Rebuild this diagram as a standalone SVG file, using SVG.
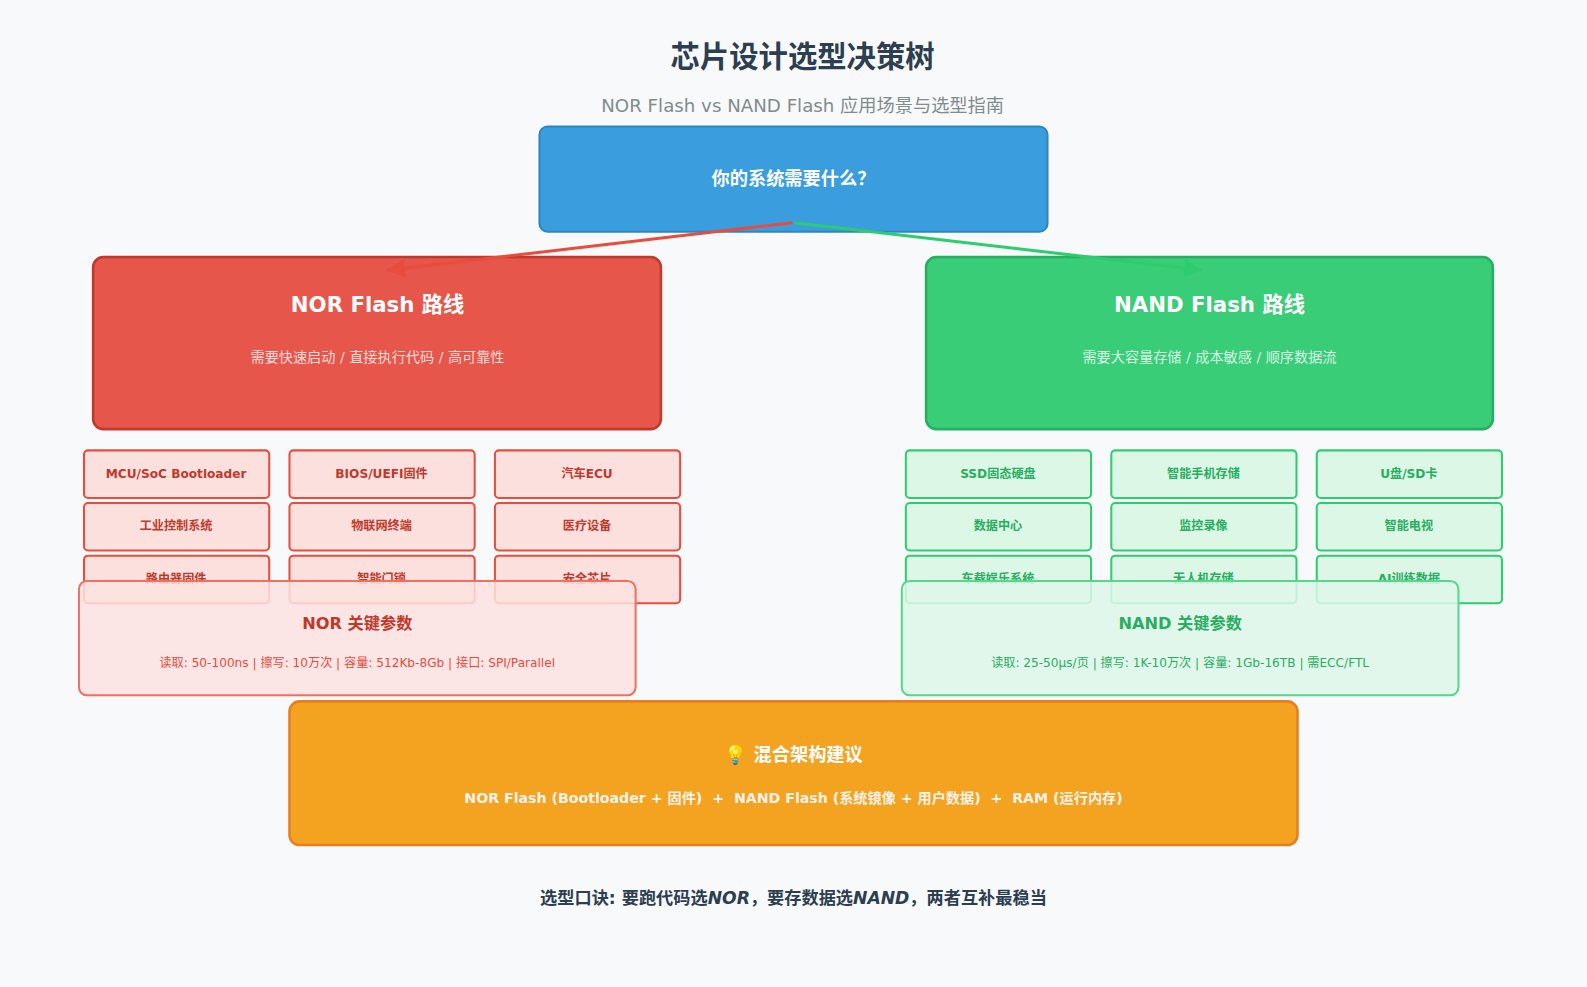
<svg xmlns="http://www.w3.org/2000/svg" width="1587" height="987" viewBox="0 0 1587 987">
<style>
text{font-family:"DejaVu Sans","Noto Sans CJK SC",sans-serif;text-anchor:middle}
.b{font-weight:bold}
.na{fill:#fce0de;stroke:#e74c3c;stroke-width:2}
.ga{fill:#dcf7e6;stroke:#2ecc71;stroke-width:2}
.nt{fill:#c0392b;font-size:12px;font-weight:bold}
.gt{fill:#27ae60;font-size:12px;font-weight:bold}
</style>
<defs>
<marker id="mr" markerWidth="8" markerHeight="8" refX="6" refY="3" orient="auto"><path d="M0,0L6,3L0,6Z" fill="#e74c3c"/></marker>
<marker id="mg" markerWidth="8" markerHeight="8" refX="6" refY="3" orient="auto"><path d="M0,0L6,3L0,6Z" fill="#2ecc71"/></marker>
</defs>
<rect width="1587" height="987" fill="#f8f9fa"/>
<g transform="scale(1.0121)">
<text x="793" y="66" class="b" font-size="29" fill="#2c3e50">芯片设计选型决策树</text>
<text x="793" y="111" font-size="18" fill="#7f8c8d">NOR Flash vs NAND Flash 应用场景与选型指南</text>
<g id="root"><rect x="533" y="125" width="502" height="104" rx="8" fill="#3a9ddd" stroke="#2e86c1" stroke-width="2"/>
<text x="784" y="183" class="b" font-size="18" fill="#fff">你的系统需要什么？</text></g>
<g id="nor"><rect x="92" y="254" width="561" height="170" rx="10" fill="#e7564a" stroke="#c0392b" stroke-width="2.5"/>
<text x="373" y="308" class="b" font-size="21" fill="#fff">NOR Flash 路线</text>
<text x="373" y="358" font-size="14" fill="#fadbd8">需要快速启动 / 直接执行代码 / 高可靠性</text></g>
<g id="nand"><rect x="915" y="254" width="560" height="170" rx="10" fill="#3acd77" stroke="#27ae60" stroke-width="2.5"/>
<text x="1195" y="308" class="b" font-size="21" fill="#fff">NAND Flash 路线</text>
<text x="1195" y="358" font-size="14" fill="#d5f5e3">需要大容量存储 / 成本敏感 / 顺序数据流</text></g>
<g id="connectors" stroke-width="3" fill="none">
<line x1="783" y1="220" x2="382" y2="267" stroke="#e74c3c" marker-end="url(#mr)"/>
<line x1="785" y1="220" x2="1188" y2="267" stroke="#2ecc71" marker-end="url(#mg)"/>
</g>
<g id="nor-apps">
<rect class="na" x="83" y="445" width="183" height="47" rx="4"/><text class="nt" x="174" y="472">MCU/SoC Bootloader</text>
<rect class="na" x="286" y="445" width="183" height="47" rx="4"/><text class="nt" x="377" y="472">BIOS/UEFI固件</text>
<rect class="na" x="489" y="445" width="183" height="47" rx="4"/><text class="nt" x="580" y="472">汽车ECU</text>
<rect class="na" x="83" y="497" width="183" height="47" rx="4"/><text class="nt" x="174" y="524">工业控制系统</text>
<rect class="na" x="286" y="497" width="183" height="47" rx="4"/><text class="nt" x="377" y="524">物联网终端</text>
<rect class="na" x="489" y="497" width="183" height="47" rx="4"/><text class="nt" x="580" y="524">医疗设备</text>
<rect class="na" x="83" y="549" width="183" height="47" rx="4"/><text class="nt" x="174" y="576">路由器固件</text>
<rect class="na" x="286" y="549" width="183" height="47" rx="4"/><text class="nt" x="377" y="576">智能门锁</text>
<rect class="na" x="489" y="549" width="183" height="47" rx="4"/><text class="nt" x="580" y="576">安全芯片</text>
</g>
<g id="nand-apps">
<rect class="ga" x="895" y="445" width="183" height="47" rx="4"/><text class="gt" x="986" y="472">SSD固态硬盘</text>
<rect class="ga" x="1098" y="445" width="183" height="47" rx="4"/><text class="gt" x="1189" y="472">智能手机存储</text>
<rect class="ga" x="1301" y="445" width="183" height="47" rx="4"/><text class="gt" x="1392" y="472">U盘/SD卡</text>
<rect class="ga" x="895" y="497" width="183" height="47" rx="4"/><text class="gt" x="986" y="524">数据中心</text>
<rect class="ga" x="1098" y="497" width="183" height="47" rx="4"/><text class="gt" x="1189" y="524">监控录像</text>
<rect class="ga" x="1301" y="497" width="183" height="47" rx="4"/><text class="gt" x="1392" y="524">智能电视</text>
<rect class="ga" x="895" y="549" width="183" height="47" rx="4"/><text class="gt" x="986" y="576">车载娱乐系统</text>
<rect class="ga" x="1098" y="549" width="183" height="47" rx="4"/><text class="gt" x="1189" y="576">无人机存储</text>
<rect class="ga" x="1301" y="549" width="183" height="47" rx="4"/><text class="gt" x="1392" y="576">AI训练数据</text>
</g>
<g id="nor-params"><rect x="78" y="574" width="550" height="113" rx="8" fill="#fce3e0" fill-opacity="0.85" stroke="#ec7063" stroke-width="2"/>
<text x="353" y="621" class="b" font-size="16" fill="#c0392b">NOR 关键参数</text>
<text x="353" y="659" font-size="12" fill="#e74c3c">读取: 50-100ns | 擦写: 10万次 | 容量: 512Kb-8Gb | 接口: SPI/Parallel</text></g>
<g id="nand-params"><rect x="891" y="574" width="550" height="113" rx="8" fill="#def7e8" fill-opacity="0.85" stroke="#58d68d" stroke-width="2"/>
<text x="1166" y="621" class="b" font-size="16" fill="#27ae60">NAND 关键参数</text>
<text x="1166" y="659" font-size="12" fill="#27ae60">读取: 25-50μs/页 | 擦写: 1K-10万次 | 容量: 1Gb-16TB | 需ECC/FTL</text></g>
<g id="hybrid"><rect x="286" y="693" width="996" height="142" rx="10" fill="#f4a321" stroke="#e67e22" stroke-width="2.5"/>
<text x="784" y="752" class="b" font-size="18" fill="#fff">💡 混合架构建议</text>
<text x="784" y="793" class="b" font-size="14" fill="#fdf2e9" xml:space="preserve">NOR Flash (Bootloader + 固件)  +  NAND Flash (系统镜像 + 用户数据)  +  RAM (运行内存)</text></g>
<text x="784" y="893" class="b" font-size="17" fill="#2c3e50">选型口诀: 要跑代码选<tspan font-style="italic">NOR</tspan>，要存数据选<tspan font-style="italic">NAND</tspan>，两者互补最稳当</text>
</g>
</svg>
